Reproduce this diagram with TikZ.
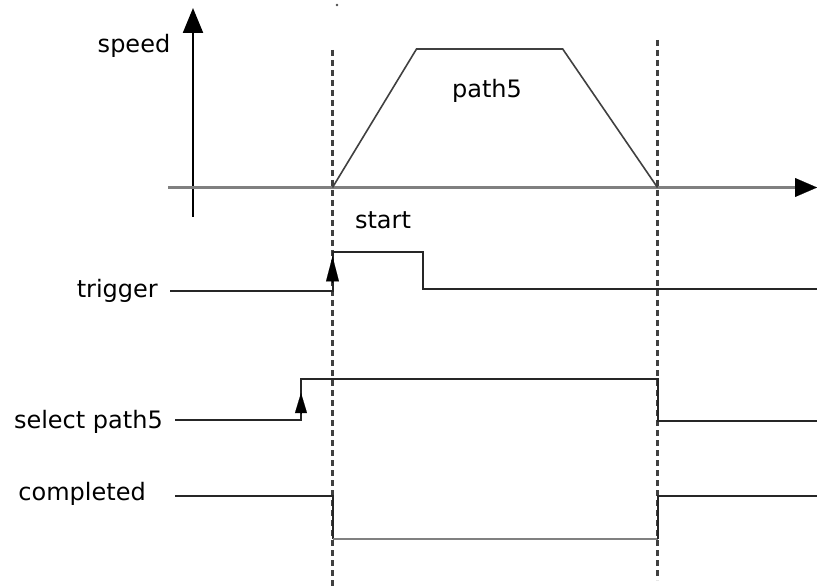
\documentclass[tikz,border=0pt]{standalone}
\usepackage{fontspec}
\setmainfont{DejaVu Sans}
\usetikzlibrary{arrows.meta}
\begin{document}
\begin{tikzpicture}[x=1pt,y=-1pt,
  lbl/.style={inner sep=0pt,font=\fontsize{24}{28}\selectfont,text=black},
  sig/.style={draw=black!85,line width=2pt},
  axisline/.style={draw=black!50,line width=2.8pt},
  vaxis/.style={draw=black!75,line width=2.2pt},
  guide/.style={draw=black!75,line width=2.3pt,dash pattern=on 6pt off 4pt},
  ramp/.style={draw=black!75,line width=1.6pt,line join=miter}]
\useasboundingbox (0,0) rectangle (817,588);
% axes
\coordinate (vb) at (193,217);
\coordinate (vt) at (193,8);
\draw[vaxis,-{Triangle[length=25pt,width=20pt]},black] (vb) -- (vt);
\coordinate (hl) at (168,187.5);
\coordinate (hr) at (817,187.5);
\draw[axisline] (hl) -- (796,187.5);
\draw[-{Triangle[length=22pt,width=19pt]},black,line width=0.1pt] (795,187.5) -- (hr);
% guides
\fill[black!70] (337,5) circle (1.3pt);
\coordinate (g1t) at (332.5,50);
\coordinate (g1b) at (332.5,588);
\coordinate (g2t) at (657.5,40);
\coordinate (g2b) at (657.5,580);
\draw[guide] (g1t) -- (g1b);
\draw[guide] (g2t) -- (g2b);
% speed profile
\coordinate (p0) at (332.5,187.5);
\coordinate (p1) at (416.5,49);
\coordinate (p2) at (562.7,49);
\coordinate (p3) at (657.5,187.5);
\draw[ramp] (p0) -- (p1) -- (p2) -- (p3);
% labels
\node[lbl,anchor=base] (speed) at (134,53) {speed};
\node[lbl,anchor=base] (path) at (487,98) {path5};
\node[lbl,anchor=base] (start) at (383,229) {start};
\node[lbl,anchor=base east] (trig) at (158,298) {trigger};
\node[lbl,anchor=base east] (sel) at (163,428) {select path5};
\node[lbl,anchor=base east] (comp) at (146,500) {completed};
% trigger
\coordinate (t0) at (170,291);
\coordinate (t1) at (332.5,291);
\coordinate (t2) at (332.5,252);
\coordinate (t3) at (423,252);
\coordinate (t4) at (423,289);
\coordinate (t5) at (817,289);
\draw[sig] (t0) -- (t1) -- (t2) -- (t3) -- (t4) -- (t5);
\coordinate (ta) at (332.5,256.5);
\draw[-{Triangle[length=25pt,width=13pt]},black,line width=0.1pt] (332.5,283) -- (ta);
% select path5
\coordinate (s0) at (175,420);
\coordinate (s1) at (301,420);
\coordinate (s2) at (301,379);
\coordinate (s3) at (657.5,379);
\coordinate (s4) at (657.5,421);
\coordinate (s5) at (817,421);
\draw[sig] (s0) -- (s1) -- (s2) -- (s3) -- (s4) -- (s5);
\coordinate (sa) at (301,393);
\draw[-{Triangle[length=20pt,width=12pt]},black,line width=0.1pt] (301,414) -- (sa);
% completed
\coordinate (c0) at (175,495.5);
\coordinate (c1) at (332.5,495.5);
\coordinate (c2) at (332.5,539);
\coordinate (c3) at (657.5,539);
\coordinate (c4) at (657.5,496);
\coordinate (c5) at (817,496);
\draw[sig] (c0) -- (c1) -- (c2);
\draw[axisline,line width=2.6pt] (c2) -- (c3);
\draw[sig] (c3) -- (c4) -- (c5);
\end{tikzpicture}
\end{document}
